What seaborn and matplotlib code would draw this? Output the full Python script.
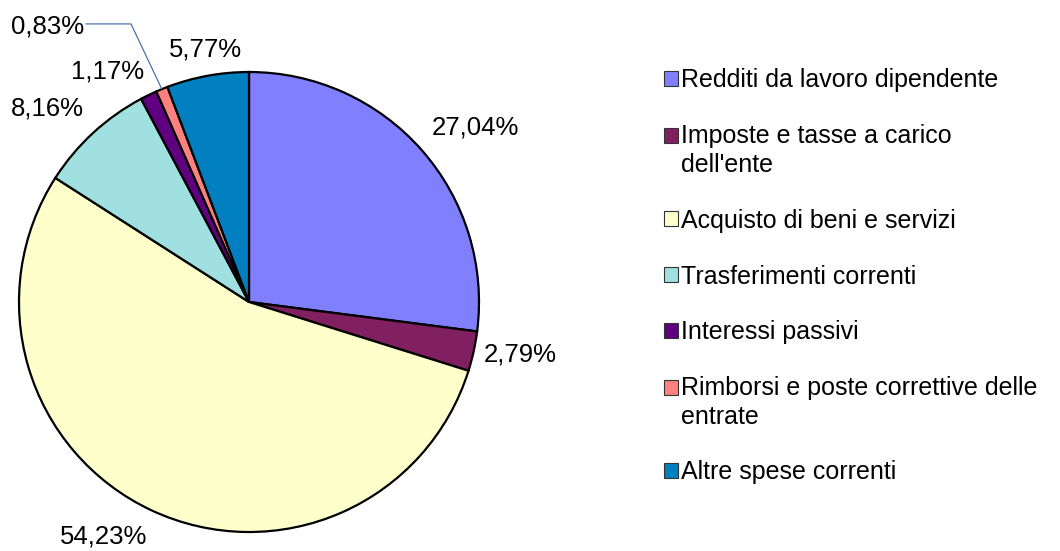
import numpy as np
import matplotlib
matplotlib.use("Agg")
import matplotlib.pyplot as plt
import seaborn as sns
from matplotlib.patches import Rectangle
from matplotlib.legend_handler import HandlerPatch

sns.set_theme(style="white")
plt.rcParams['font.family'] = ['Liberation Sans', 'DejaVu Sans']
plt.rcParams['text.color'] = 'black'

categories = [
    "Redditi da lavoro dipendente",
    "Imposte e tasse a carico\ndell'ente",
    "Acquisto di beni e servizi",
    "Trasferimenti correnti",
    "Interessi passivi",
    "Rimborsi e poste correttive delle\nentrate",
    "Altre spese correnti",
]
values = [27.04, 2.79, 54.23, 8.16, 1.17, 0.83, 5.77]
value_labels = ["27,04%", "2,79%", "54,23%", "8,16%", "1,17%", "0,83%", "5,77%"]
colors = ["#8080ff", "#802060", "#ffffcc", "#a0e0e0", "#600080", "#ff8080", "#0080c0"]

# label placement: (distance factor, angular shift in degrees) relative to wedge middle
label_dist = [1.241, 1.200, 1.200, 1.214, 1.178, 1.484, 1.113]
label_shift = [-3.7, 1.35, -6.65, 3.6, 5.7, 14.0, -0.5]

W, H = 1060, 551
fig = plt.figure(figsize=(W / 100, H / 100), dpi=100)
cx, cy, R = 249, 302, 230
ax = fig.add_axes([(cx - R) / W, (H - cy - R) / H, 2 * R / W, 2 * R / H])

wedges, _ = ax.pie(values, colors=colors, startangle=90, counterclock=False,
                   radius=1, center=(0, 0),
                   wedgeprops=dict(edgecolor="black", linewidth=1.6))
ax.set_xlim(-1, 1)
ax.set_ylim(-1, 1)
ax.axis("off")

fs = 18.5
for i, w in enumerate(wedges):
    mid = np.deg2rad((w.theta1 + w.theta2) / 2 + label_shift[i])
    x = label_dist[i] * np.cos(mid)
    y = label_dist[i] * np.sin(mid)
    ax.text(x, y, value_labels[i], ha="center", va="center", fontsize=fs,
            color="black", clip_on=False)

# leader line for the small 0,83% slice
w = wedges[5]
m = np.deg2rad((w.theta1 + w.theta2) / 2)
x0, y0 = np.cos(m), np.sin(m)
ax.plot([x0, -0.513, -0.709], [y0, 1.209, 1.209], color="#3465a4", lw=0.8,
        clip_on=False)


def make_square(legend, orig_handle, xdescent, ydescent, width, height, fontsize):
    shift = 0.0
    lab = orig_handle.get_label()
    if "\n" in lab:
        shift = 0.64 * fontsize
    return Rectangle((-xdescent, -ydescent + shift), width, height)


handles = [Rectangle((0, 0), 1, 1, facecolor=c, edgecolor="#333333", lw=0.8,
                     label=l) for c, l in zip(colors, categories)]
leg = fig.legend(handles=handles, loc="upper left",
                 bbox_to_anchor=(664 / W, 1 - 68.5 / H),
                 frameon=False, fontsize=18, borderpad=0, borderaxespad=0,
                 handlelength=0.55, handleheight=0.55, handletextpad=0.12,
                 labelspacing=1.27,
                 handler_map={Rectangle: HandlerPatch(patch_func=make_square)})
for t in leg.get_texts():
    t.set_color("black")
    t.set_linespacing(1.25)

fig.savefig("out.png", dpi=100, facecolor="white")
